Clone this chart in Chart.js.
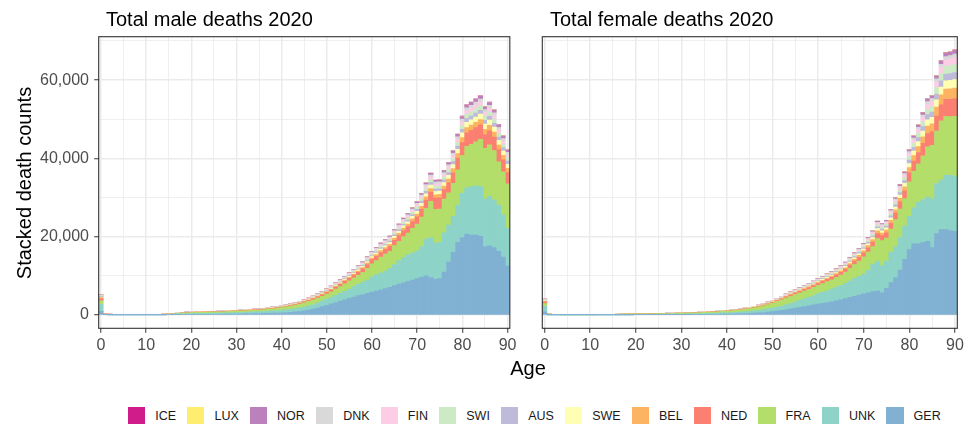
<!DOCTYPE html>
<html>
<head>
<meta charset="utf-8">
<script src="https://cdn.jsdelivr.net/npm/chart.js@4.4.0/dist/chart.umd.min.js"></script>
<style>
  body { margin: 0; background: #fff; width: 970px; height: 425px; overflow: hidden; position: relative;
         font-family: "Liberation Sans", Arial, sans-serif; }
  canvas { position: absolute; top: 0; }
  #cm { left: 0; }
  #cf { left: 520px; }
  .ttl { position: absolute; font-size: 20px; line-height: 20px; color: #000; white-space: nowrap; }
  #legend { position: absolute; left: 128px; top: 407px; display: flex; align-items: center; gap: 11px;
            font-size: 12.5px; color: #1a1a1a; }
  .it { display: flex; align-items: center; }
  .key { width: 17.3px; height: 17.3px; margin-right: 10px; }
</style>
</head>
<body>
<canvas id="cm" width="520" height="360"></canvas>
<canvas id="cf" width="450" height="360"></canvas>
<div class="ttl" style="left:106px;top:9px">Total male deaths 2020</div>
<div class="ttl" style="left:550px;top:9px">Total female deaths 2020</div>
<div class="ttl" style="left:478px;width:100px;text-align:center;top:358px">Age</div>
<div class="ttl" style="left:-126px;top:172.5px;width:300px;text-align:center;transform:rotate(-90deg)">Stacked death counts</div>
<div id="legend"></div>

<script>
// ─── Ages (x categories) ───
const AGES = Array.from({ length: 91 }, (_, i) => String(i));

// ─── Stack order, bottom to top ───
const COUNTRIES = ['GER', 'UNK', 'FRA', 'NED', 'BEL', 'SWE', 'AUS', 'SWI', 'FIN', 'DNK', 'NOR', 'LUX', 'ICE'];
const LEGEND_ORDER = ['ICE', 'LUX', 'NOR', 'DNK', 'FIN', 'SWI', 'AUS', 'SWE', 'BEL', 'NED', 'FRA', 'UNK', 'GER'];
const Y_TICKS = [0, 10000, 20000, 30000, 40000, 50000, 60000, 70000];

// ─── Male deaths by age (0..90) ───
const GER_M = [
  950, 70, 45, 35, 30, 28, 27, 27, 28, 30,
  32, 35, 40, 46, 55, 70, 90, 115, 140, 155,
  165, 170, 175, 180, 190, 200, 210, 220, 235, 250,
  265, 285, 305, 330, 355, 385, 415, 450, 490, 530,
  580, 640, 710, 790, 880, 1050, 1250, 1500, 1800, 2150,
  2500, 2850, 3200, 3550, 3900, 4250, 4600, 4950, 5250, 5550,
  5850, 6150, 6450, 6750, 7100, 7500, 7900, 8250, 8600, 8950,
  9300, 9700, 10000, 9600, 9100, 9300, 11000, 13500, 16000, 18600,
  19700, 20700, 20400, 20400, 20100, 17400, 17700, 17200, 16300, 14800, 12500];
const UNK_M = [
  1800, 110, 70, 55, 50, 45, 45, 45, 45, 48,
  50, 55, 60, 70, 85, 105, 130, 165, 200, 225,
  240, 245, 250, 255, 265, 275, 285, 300, 315, 330,
  350, 370, 390, 415, 440, 470, 500, 535, 575, 620,
  670, 720, 780, 850, 920, 1000, 1090, 1190, 1300, 1420,
  1550, 1700, 1850, 2000, 2200, 2400, 2650, 2900, 3150, 3400,
  3900, 4100, 4300, 4500, 4800, 5400, 6000, 6500, 6800, 6900,
  7100, 7800, 9400, 10100, 9300, 9300, 10000, 9500, 9200, 9500,
  11400, 11800, 12400, 12600, 12700, 12200, 12600, 12200, 11800, 10800, 9700];
const FRA_M = [
  850, 85, 55, 44, 38, 35, 33, 33, 33, 35,
  37, 40, 44, 51, 62, 80, 102, 130, 165, 200,
  240, 260, 275, 290, 300, 305, 315, 330, 345, 360,
  370, 390, 400, 420, 430, 440, 480, 510, 540, 600,
  650, 720, 790, 880, 1000, 1070, 1140, 1190, 1220, 1230,
  1320, 1390, 1550, 1700, 1880, 2070, 2190, 2290, 2520, 3010,
  3350, 3650, 4070, 4290, 4360, 4840, 4940, 5290, 5540, 6270,
  6800, 7500, 7800, 9360, 8560, 8440, 8620, 8220, 8420, 8960,
  9640, 10560, 10820, 11260, 12100, 13000, 13200, 12600, 11000, 11000, 11300];
const NED_M = [
  550, 25, 16, 13, 11, 10, 10, 10, 10, 10,
  11, 12, 13, 15, 18, 23, 29, 36, 44, 49,
  53, 55, 57, 59, 61, 63, 66, 69, 72, 76,
  80, 85, 89, 94, 99, 105, 113, 122, 131, 142,
  154, 169, 185, 205, 228, 254, 283, 315, 351, 390,
  432, 475, 520, 569, 624, 676, 735, 800, 871, 956,
  1040, 1105, 1164, 1222, 1281, 1352, 1450, 1547, 1645, 1749,
  1885, 2002, 2158, 2360, 2900, 2900, 2405, 2535, 2730, 3010,
  3309, 3497, 3543, 3595, 3647, 3504, 3575, 3432, 3133, 3023, 2860];
const BEL_M = [
  280, 10, 6, 5, 4, 4, 4, 4, 4, 4,
  4, 5, 5, 6, 7, 9, 11, 14, 17, 19,
  21, 21, 22, 23, 24, 24, 25, 27, 28, 29,
  31, 33, 34, 36, 38, 41, 44, 47, 50, 55,
  59, 65, 71, 79, 88, 98, 109, 121, 135, 150,
  166, 183, 200, 219, 240, 260, 283, 308, 335, 368,
  400, 425, 448, 470, 493, 520, 558, 595, 633, 673,
  725, 770, 830, 908, 863, 865, 925, 975, 1050, 1158,
  1273, 1345, 1363, 1383, 1403, 1348, 1375, 1320, 1205, 1163, 1100];
const SWE_M = [
  120, 9, 6, 5, 4, 4, 4, 4, 4, 4,
  4, 4, 5, 6, 7, 8, 11, 13, 16, 18,
  20, 20, 21, 22, 23, 23, 24, 25, 27, 28,
  30, 31, 33, 35, 37, 39, 42, 45, 48, 52,
  57, 62, 68, 76, 84, 94, 104, 116, 130, 144,
  160, 175, 192, 210, 230, 250, 271, 295, 322, 353,
  384, 408, 430, 451, 473, 499, 535, 571, 607, 646,
  696, 739, 797, 871, 828, 830, 888, 936, 1008, 1111,
  1222, 1291, 1308, 1327, 1346, 1294, 1320, 1267, 1157, 1116, 1056];
const AUS_M = [
  170, 7, 5, 4, 3, 3, 3, 3, 3, 3,
  3, 3, 4, 4, 5, 6, 8, 10, 12, 14,
  15, 15, 16, 16, 17, 17, 18, 19, 20, 21,
  22, 23, 25, 26, 28, 29, 31, 34, 36, 39,
  43, 47, 51, 57, 63, 70, 78, 87, 97, 108,
  120, 131, 144, 158, 173, 187, 203, 221, 241, 265,
  288, 306, 322, 338, 355, 374, 401, 428, 455, 484,
  522, 554, 598, 653, 621, 623, 666, 702, 756, 833,
  916, 968, 981, 995, 1010, 970, 990, 950, 868, 837, 792];
const SWI_M = [
  160, 8, 5, 4, 4, 3, 3, 3, 3, 3,
  3, 4, 4, 5, 6, 7, 9, 11, 14, 15,
  16, 17, 18, 18, 19, 19, 20, 21, 22, 23,
  25, 26, 27, 29, 31, 32, 35, 37, 40, 44,
  47, 52, 57, 63, 70, 78, 87, 97, 108, 120,
  133, 146, 160, 175, 192, 208, 226, 246, 268, 294,
  320, 340, 358, 376, 394, 416, 446, 476, 506, 538,
  580, 616, 664, 726, 690, 692, 740, 780, 840, 926,
  1018, 1076, 1090, 1106, 1122, 1078, 1100, 1056, 964, 930, 880];
const FIN_M = [
  60, 7, 5, 4, 3, 3, 3, 3, 3, 3,
  3, 3, 4, 4, 5, 6, 8, 10, 12, 14,
  16, 16, 17, 17, 18, 18, 19, 20, 21, 22,
  24, 25, 27, 28, 30, 32, 34, 37, 40, 43,
  47, 52, 57, 63, 70, 78, 86, 96, 107, 119,
  132, 145, 158, 173, 190, 205, 222, 240, 260, 285,
  305, 322, 338, 352, 368, 385, 410, 432, 455, 480,
  510, 540, 590, 660, 610, 600, 630, 660, 710, 780,
  860, 900, 920, 930, 940, 900, 920, 880, 800, 770, 720];
const DNK_M = [
  110, 5, 4, 3, 2, 2, 2, 2, 2, 2,
  2, 3, 3, 3, 4, 5, 6, 8, 10, 11,
  11, 12, 12, 13, 13, 14, 14, 15, 16, 16,
  17, 18, 19, 20, 21, 23, 24, 26, 28, 31,
  33, 36, 40, 44, 49, 55, 61, 68, 76, 84,
  93, 102, 112, 123, 134, 146, 158, 172, 188, 206,
  224, 238, 251, 263, 276, 291, 312, 333, 354, 377,
  406, 431, 465, 508, 483, 484, 518, 546, 588, 648,
  713, 753, 763, 774, 785, 755, 770, 739, 675, 651, 616];
const NOR_M = [
  70, 4, 3, 2, 2, 2, 1, 1, 2, 2,
  2, 2, 3, 3, 4, 4, 5, 7, 8, 9,
  12, 12, 12, 13, 13, 13, 14, 14, 15, 15,
  16, 17, 18, 18, 19, 21, 22, 24, 26, 28,
  30, 33, 36, 40, 44, 49, 54, 60, 67, 74,
  82, 90, 99, 108, 118, 128, 139, 151, 165, 180,
  196, 208, 220, 231, 243, 257, 276, 296, 316, 338,
  365, 389, 421, 461, 440, 442, 475, 502, 543, 600,
  663, 704, 716, 730, 743, 718, 734, 708, 649, 628, 596];
const LUX_M = [
  12, 1, 0, 0, 0, 0, 0, 0, 0, 0,
  0, 0, 0, 0, 0, 0, 1, 1, 1, 1,
  1, 1, 1, 1, 1, 1, 1, 1, 1, 1,
  1, 1, 1, 1, 2, 2, 2, 2, 2, 2,
  2, 3, 3, 3, 4, 4, 4, 5, 5, 6,
  7, 7, 8, 9, 10, 10, 11, 12, 13, 15,
  16, 17, 18, 19, 20, 21, 22, 24, 25, 27,
  29, 31, 33, 36, 35, 35, 37, 39, 42, 46,
  51, 54, 55, 55, 56, 54, 55, 53, 48, 47, 44];
const ICE_M = [
  5, 0, 0, 0, 0, 0, 0, 0, 0, 0,
  0, 0, 0, 0, 0, 0, 0, 1, 1, 1,
  0, 1, 1, 1, 1, 1, 1, 1, 1, 1,
  1, 1, 1, 1, 1, 1, 1, 1, 1, 1,
  1, 2, 2, 2, 2, 2, 3, 3, 3, 4,
  4, 4, 5, 5, 6, 6, 7, 7, 8, 9,
  10, 10, 11, 11, 12, 12, 13, 14, 15, 16,
  17, 18, 20, 22, 21, 21, 22, 23, 25, 28,
  31, 32, 33, 33, 34, 32, 33, 32, 29, 28, 26];

// ─── Female deaths by age (0..90) ───
const GER_F = [
  800, 60, 35, 28, 24, 22, 20, 19, 19, 20,
  22, 24, 27, 31, 36, 42, 48, 55, 60, 63,
  66, 68, 70, 73, 76, 80, 84, 89, 95, 101,
  108, 116, 125, 135, 146, 158, 172, 188, 206, 226,
  248, 272, 300, 335, 375, 425, 485, 560, 650, 760,
  880, 1020, 1180, 1360, 1560, 1760, 1960, 2160, 2380, 2600,
  2800, 3000, 3200, 3400, 3650, 3900, 4200, 4500, 4800, 5100,
  5400, 5700, 6000, 6100, 5750, 6800, 8300, 9500, 11500, 14200,
  16700, 18200, 18200, 18500, 18800, 17200, 20800, 21800, 21800, 21600, 21400];
const UNK_F = [
  1400, 90, 55, 42, 36, 32, 30, 29, 29, 30,
  32, 35, 39, 45, 53, 62, 72, 82, 90, 95,
  100, 103, 106, 110, 115, 120, 127, 135, 144, 153,
  164, 175, 187, 200, 214, 230, 248, 267, 288, 311,
  336, 365, 400, 440, 485, 535, 590, 650, 720, 800,
  890, 990, 1100, 1220, 1340, 1600, 1780, 1980, 2180, 2400,
  2600, 2800, 3000, 3200, 3400, 3650, 3900, 4200, 4500, 4800,
  5100, 5700, 7000, 7600, 6800, 7000, 7800, 7900, 8300, 8500,
  8500, 9200, 10600, 11000, 11400, 12400, 12800, 12700, 13900, 14100, 13900];
const FRA_F = [
  700, 70, 42, 33, 29, 26, 24, 23, 23, 24,
  25, 28, 31, 35, 42, 60, 75, 95, 110, 125,
  135, 138, 141, 146, 150, 157, 163, 174, 183, 193,
  207, 221, 232, 250, 266, 286, 303, 325, 351, 381,
  415, 452, 494, 541, 602, 665, 753, 862, 986, 1121,
  1277, 1443, 1620, 1766, 1893, 1880, 1947, 1994, 2020, 2068,
  2155, 2243, 2330, 2418, 2536, 2686, 2867, 3242, 3617, 3911,
  4367, 4686, 4467, 5798, 6460, 5860, 5835, 6972, 7253, 7034,
  8800, 9300, 9818, 11192, 12765, 13743, 13394, 15117, 15000, 14967, 15464];
const NED_F = [
  400, 18, 10, 8, 7, 7, 6, 6, 6, 6,
  6, 7, 8, 9, 10, 12, 14, 17, 18, 19,
  20, 21, 21, 22, 23, 24, 25, 27, 29, 30,
  32, 35, 37, 40, 42, 46, 49, 53, 57, 62,
  68, 74, 81, 89, 99, 110, 124, 140, 160, 182,
  206, 234, 264, 294, 325, 355, 385, 415, 446, 479,
  512, 545, 578, 611, 649, 693, 743, 809, 875, 935,
  1007, 1089, 1183, 1320, 1287, 1331, 1485, 1650, 1832, 2013,
  2400, 2650, 2900, 3150, 3400, 3500, 3850, 4150, 4400, 4450, 4500];
const BEL_F = [
  230, 9, 5, 4, 4, 3, 3, 3, 3, 3,
  3, 4, 4, 4, 5, 6, 7, 8, 9, 10,
  10, 11, 11, 11, 12, 12, 13, 14, 15, 15,
  17, 18, 19, 20, 22, 23, 25, 27, 29, 32,
  34, 38, 41, 45, 50, 56, 63, 71, 81, 92,
  105, 119, 134, 150, 165, 181, 196, 211, 227, 244,
  260, 277, 294, 311, 330, 353, 378, 412, 445, 476,
  512, 554, 602, 672, 655, 678, 756, 840, 932, 1025,
  1250, 1380, 1520, 1700, 1900, 2000, 2250, 2450, 2600, 2650, 2700];
const SWE_F = [
  100, 8, 5, 4, 3, 3, 3, 3, 3, 3,
  3, 3, 3, 4, 5, 5, 6, 7, 8, 8,
  9, 9, 9, 10, 10, 11, 11, 12, 12, 13,
  14, 15, 16, 17, 18, 20, 21, 23, 25, 27,
  30, 32, 35, 39, 43, 48, 54, 61, 70, 79,
  90, 102, 115, 128, 142, 155, 168, 181, 194, 209,
  223, 238, 252, 266, 283, 302, 324, 353, 382, 408,
  439, 475, 516, 576, 562, 581, 648, 720, 799, 878,
  1050, 1150, 1260, 1420, 1600, 1650, 1850, 2000, 2100, 2150, 2200];
const AUS_F = [
  130, 6, 4, 3, 2, 2, 2, 2, 2, 2,
  2, 2, 3, 3, 4, 4, 5, 6, 6, 7,
  7, 7, 7, 8, 8, 8, 9, 9, 10, 10,
  11, 12, 13, 14, 15, 16, 17, 18, 20, 21,
  23, 25, 28, 31, 34, 38, 43, 48, 55, 63,
  71, 81, 91, 102, 112, 123, 133, 143, 154, 165,
  177, 188, 200, 211, 224, 239, 257, 279, 302, 323,
  348, 376, 409, 456, 445, 460, 513, 570, 633, 695,
  850, 930, 1020, 1150, 1300, 1330, 1480, 1600, 1700, 1750, 1780];
const SWI_F = [
  130, 6, 4, 3, 3, 2, 2, 2, 2, 2,
  2, 3, 3, 3, 4, 4, 5, 6, 7, 7,
  7, 8, 8, 8, 8, 9, 9, 10, 10, 11,
  12, 13, 13, 14, 15, 17, 18, 19, 21, 23,
  25, 27, 29, 32, 36, 40, 45, 51, 58, 66,
  75, 85, 96, 107, 118, 129, 140, 151, 162, 174,
  186, 198, 210, 222, 236, 252, 270, 294, 318, 340,
  366, 396, 430, 480, 468, 484, 540, 600, 666, 732,
  900, 1000, 1100, 1250, 1400, 1450, 1650, 1850, 2000, 2050, 2100];
const FIN_F = [
  50, 5, 3, 3, 2, 2, 2, 2, 2, 2,
  2, 2, 2, 3, 3, 4, 4, 5, 6, 6,
  6, 6, 7, 7, 7, 7, 8, 8, 9, 9,
  10, 11, 11, 12, 13, 14, 15, 16, 18, 19,
  21, 23, 25, 28, 31, 34, 38, 43, 49, 56,
  64, 72, 82, 91, 100, 110, 119, 128, 138, 148,
  158, 168, 179, 189, 201, 214, 230, 250, 270, 289,
  311, 337, 366, 408, 398, 411, 459, 510, 566, 622,
  750, 830, 920, 1050, 1200, 1250, 1400, 1500, 1600, 1650, 1700];
const DNK_F = [
  90, 4, 2, 2, 2, 1, 1, 1, 1, 1,
  1, 2, 2, 2, 2, 3, 3, 4, 4, 4,
  4, 5, 5, 5, 5, 5, 6, 6, 6, 7,
  7, 8, 8, 9, 9, 10, 11, 12, 12, 14,
  15, 16, 18, 19, 22, 24, 27, 31, 35, 40,
  45, 51, 58, 64, 71, 77, 84, 91, 97, 104,
  112, 119, 126, 133, 142, 151, 162, 176, 191, 204,
  220, 238, 258, 288, 281, 290, 324, 360, 400, 439,
  520, 570, 620, 680, 750, 770, 830, 870, 900, 910, 920];
const NOR_F = [
  60, 3, 2, 2, 1, 1, 1, 1, 1, 1,
  1, 1, 2, 2, 2, 2, 3, 3, 4, 4,
  4, 4, 4, 4, 5, 5, 5, 5, 6, 6,
  6, 7, 7, 8, 8, 9, 10, 11, 11, 12,
  14, 15, 16, 18, 20, 22, 25, 28, 32, 36,
  41, 47, 53, 59, 65, 71, 77, 83, 89, 96,
  102, 109, 116, 122, 130, 139, 149, 162, 175, 187,
  201, 218, 237, 264, 257, 266, 297, 330, 366, 403,
  470, 520, 570, 630, 700, 720, 800, 860, 900, 910, 920];
const LUX_F = [
  10, 1, 0, 0, 0, 0, 0, 0, 0, 0,
  0, 0, 0, 0, 0, 0, 0, 0, 0, 0,
  0, 0, 0, 0, 0, 0, 0, 0, 1, 1,
  1, 1, 1, 1, 1, 1, 1, 1, 1, 1,
  1, 1, 1, 2, 2, 2, 2, 3, 3, 3,
  4, 4, 5, 5, 6, 6, 7, 8, 8, 9,
  9, 10, 11, 11, 12, 13, 14, 15, 16, 17,
  18, 20, 22, 24, 23, 24, 27, 30, 33, 37,
  40, 42, 45, 50, 55, 56, 62, 66, 70, 72, 74];
const ICE_F = [
  4, 0, 0, 0, 0, 0, 0, 0, 0, 0,
  0, 0, 0, 0, 0, 0, 0, 0, 0, 0,
  0, 0, 0, 0, 0, 0, 0, 0, 0, 0,
  0, 0, 0, 1, 0, 1, 0, 1, 1, 1,
  1, 1, 1, 1, 1, 1, 1, 2, 2, 2,
  2, 3, 3, 3, 4, 4, 4, 5, 5, 5,
  6, 6, 6, 7, 7, 8, 8, 9, 10, 10,
  11, 12, 13, 14, 14, 15, 16, 18, 20, 22,
  25, 26, 27, 28, 30, 31, 34, 37, 40, 41, 42];

// ─── Couleurs ───
const COLORS = {
  GER: '#80B1D3', UNK: '#8DD3C7', FRA: '#B3DE69', NED: '#FB8072',
  BEL: '#FDB462', SWE: '#FFFFB3', AUS: '#BEBADA', SWI: '#CCEBC5',
  FIN: '#FCCDE5', DNK: '#D9D9D9', NOR: '#BC80BD', LUX: '#FFED6F', ICE: '#D01C8B',
};

const MALE = { GER: GER_M, UNK: UNK_M, FRA: FRA_M, NED: NED_M, BEL: BEL_M, SWE: SWE_M, AUS: AUS_M,
               SWI: SWI_M, FIN: FIN_M, DNK: DNK_M, NOR: NOR_M, LUX: LUX_M, ICE: ICE_M };
const FEMALE = { GER: GER_F, UNK: UNK_F, FRA: FRA_F, NED: NED_F, BEL: BEL_F, SWE: SWE_F, AUS: AUS_F,
                 SWI: SWI_F, FIN: FIN_F, DNK: DNK_F, NOR: NOR_F, LUX: LUX_F, ICE: ICE_F };

const FONT = "'Liberation Sans', Arial, sans-serif";
const GRID = '#EBEBEB';

// ─── Cadre du panneau ───
const panelBorder = {
  id: 'panelBorder',
  afterDraw(chart) {
    const a = chart.chartArea, c = chart.ctx;
    c.save();
    c.strokeStyle = '#333333';
    c.lineWidth = 1.1;
    c.strokeRect(a.left, a.top, a.right - a.left, a.bottom - a.top);
    c.restore();
  }
};

function createPanel(canvasId, series, axisWidth, rightPad, showY) {
  const ctx = document.getElementById(canvasId);
  return new Chart(ctx, {
    type: 'bar',
    data: {
      labels: AGES,
      datasets: COUNTRIES.map(c => ({
        label: c,
        data: series[c],
        backgroundColor: COLORS[c],
        borderWidth: 0,
        categoryPercentage: 1,
        barPercentage: 1,
      }))
    },
    options: {
      responsive: false,
      animation: false,
      layout: { padding: { top: 36.7, right: rightPad, left: 0, bottom: 0 } },
      plugins: { legend: { display: false }, tooltip: { enabled: false } },
      scales: {
        x: {
          stacked: true,
          border: { display: false },
          grid: {
            offset: false,
            color: (c) => (c.index % 5 === 0 ? GRID : 'rgba(0,0,0,0)'),
            lineWidth: (c) => (c.index % 10 === 0 ? 1.5 : 0.8),
            tickColor: (c) => (c.index % 10 === 0 ? '#333333' : 'rgba(0,0,0,0)'),
            tickLength: 4.5,
            tickWidth: 1,
          },
          ticks: {
            autoSkip: false, maxRotation: 0, minRotation: 0, padding: 3.5,
            color: '#4D4D4D', font: { size: 16, family: FONT },
            callback: (v, i) => (i % 10 === 0 ? AGES[i] : ''),
          },
          afterFit: (s) => { s.height = 360 - 328.3; },
        },
        y: {
          stacked: true,
          min: -3385,
          max: 71085,
          border: { display: false },
          afterBuildTicks: (s) => { s.ticks = Y_TICKS.map(v => ({ value: v })); },
          afterFit: (s) => { s.width = axisWidth; },
          grid: {
            color: GRID,
            lineWidth: (c) => (c.tick && c.tick.value % 20000 === 0 ? 1.5 : 0.8),
            drawTicks: showY,
            tickColor: (c) => (c.tick && c.tick.value % 20000 === 0 ? '#333333' : 'rgba(0,0,0,0)'),
            tickLength: 4.5,
            tickWidth: 1,
          },
          ticks: {
            display: showY, autoSkip: false, padding: 5.2,
            color: '#4D4D4D', font: { size: 16, family: FONT },
            callback: (v) => (v % 20000 === 0 ? v.toLocaleString('en-US') : ''),
          },
        }
      }
    },
    plugins: [panelBorder]
  });
}

createPanel('cm', MALE, 98.7, 520 - 513.7, true);
createPanel('cf', FEMALE, 22.3, 450 - 437.3, false);

// ─── Légende ───
const legend = document.getElementById('legend');
LEGEND_ORDER.forEach(c => {
  const it = document.createElement('div');
  it.className = 'it';
  const key = document.createElement('div');
  key.className = 'key';
  key.style.background = COLORS[c];
  const txt = document.createElement('span');
  txt.textContent = c;
  it.appendChild(key);
  it.appendChild(txt);
  legend.appendChild(it);
});
</script>
</body>
</html>
